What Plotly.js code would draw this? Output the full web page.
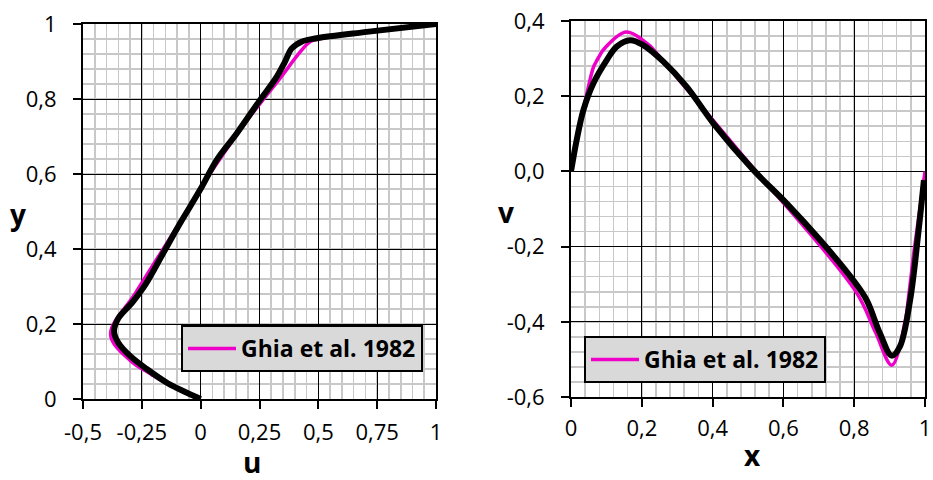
<!DOCTYPE html>
<html>
<head>
<meta charset="utf-8">
<script src="https://cdn.plot.ly/plotly-3.0.1.min.js"></script>
<style>html,body{margin:0;padding:0;background:#fff;}#chart{width:933px;height:480px;}</style>
</head>
<body>
<div id="chart"></div>
<script>
// Left panel: u along vertical centerline
const ghiaY = [0, 0.0547, 0.0625, 0.0703, 0.1016, 0.1719, 0.2813, 0.4531, 0.5, 0.6172, 0.7344, 0.8516, 0.9531, 0.9609, 0.9688, 0.9766, 1];
const ghiaU = [0, -0.18109, -0.20196, -0.22220, -0.29730, -0.38289, -0.27805, -0.10648, -0.06080, 0.05702, 0.18719, 0.33304, 0.46604, 0.51117, 0.57492, 0.65928, 1];
const simU = [0.0, -0.07, -0.14, -0.229, -0.30, -0.35, -0.368, -0.35, -0.29, -0.235, -0.16, -0.088, -0.003, 0.068, 0.153, 0.252, 0.323, 0.358, 0.387, 0.429, 0.493, 0.706, 1.0];
const simY = [0.0, 0.02, 0.042, 0.08, 0.115, 0.150, 0.18, 0.215, 0.258, 0.305, 0.388, 0.468, 0.557, 0.637, 0.708, 0.797, 0.859, 0.899, 0.935, 0.953, 0.962, 0.979, 1.0];

// Right panel: v along horizontal centerline
const ghiaX = [0, 0.0625, 0.0703, 0.0781, 0.0938, 0.1563, 0.2266, 0.2344, 0.5, 0.8047, 0.8594, 0.9063, 0.9453, 0.9531, 0.9609, 0.9688, 1];
const ghiaV = [0, 0.27485, 0.29012, 0.30353, 0.32627, 0.37095, 0.33075, 0.32235, 0.02526, -0.31966, -0.42665, -0.51550, -0.39188, -0.33714, -0.27669, -0.21388, 0];
const simX = [0, 0.016, 0.035, 0.063, 0.101, 0.129, 0.167, 0.204, 0.261, 0.327, 0.402, 0.515, 0.609, 0.703, 0.797, 0.835, 0.873, 0.906, 0.929, 0.958, 0.981, 0.997];
const simV = [0, 0.083, 0.163, 0.234, 0.296, 0.332, 0.349, 0.336, 0.292, 0.225, 0.128, 0.004, -0.085, -0.182, -0.289, -0.342, -0.431, -0.490, -0.466, -0.342, -0.165, -0.023];

// Tick labels
const uTickVals = [-0.5, -0.25, 0, 0.25, 0.5, 0.75, 1];
const uTickText = ['-0,5', '-0,25', '0', '0,25', '0,5', '0,75', '1'];
const yTickVals = [0, 0.2, 0.4, 0.6, 0.8, 1];
const yTickText = ['0', '0,2', '0,4', '0,6', '0,8', '1'];
const xTickVals = [0, 0.2, 0.4, 0.6, 0.8, 1];
const xTickText = ['0', '0,2', '0,4', '0,6', '0,8', '1'];
const vTickVals = [-0.6, -0.4, -0.2, 0, 0.2, 0.4];
const vTickText = ['-0,6', '-0,4', '-0,2', '0,0', '0,2', '0,4'];
const axisTitles = ['u', 'y', 'x', 'v'];

const legendName = 'Ghia et al. 1982';
const magenta = '#ee00c8';

const traces = [
  {x: ghiaU, y: ghiaY, xaxis: 'x', yaxis: 'y', mode: 'lines', name: legendName,
   line: {color: magenta, width: 3.5, shape: 'spline'}, legend: 'legend', showlegend: true},
  {x: simU, y: simY, xaxis: 'x', yaxis: 'y', mode: 'lines', name: 'sim u',
   line: {color: '#000', width: 6, shape: 'spline'}, showlegend: false},
  {x: ghiaX, y: ghiaV, xaxis: 'x2', yaxis: 'y2', mode: 'lines', name: legendName,
   line: {color: magenta, width: 3.5, shape: 'spline'}, legend: 'legend2', showlegend: true},
  {x: simX, y: simV, xaxis: 'x2', yaxis: 'y2', mode: 'lines', name: 'sim v',
   line: {color: '#000', width: 6, shape: 'spline'}, showlegend: false}
];

const tickFont = {family: 'Open Sans', size: 22, color: '#000'};
function axis(extra) {
  return Object.assign({
    showline: true, linecolor: '#000', linewidth: 2, mirror: true,
    ticks: 'outside', ticklen: 8, tickwidth: 2, tickcolor: '#000',
    showgrid: true, gridcolor: '#000', gridwidth: 1, zeroline: false,
    tickmode: 'array', ticklabelstandoff: 12,
    tickfont: tickFont, fixedrange: true
  }, extra);
}
function minor(t0, dt) {
  return {tickmode: 'linear', tick0: t0, dtick: dt, showgrid: true, gridcolor: '#c8c8c8', gridwidth: 1.6, ticks: ''};
}
const titleFont = {family: 'Open Sans', size: 28, color: '#000', weight: 'bold'};
const legFont = {family: 'Open Sans', size: 23, color: '#000', weight: 'bold'};

function titleAnn(text, px, py) {
  return {text: text, xref: 'paper', yref: 'paper', x: px / 933, y: 1 - py / 480,
    xanchor: 'center', yanchor: 'middle', showarrow: false, font: titleFont};
}

const layout = {
  width: 933, height: 480,
  margin: {l: 0, r: 0, t: 0, b: 0},
  paper_bgcolor: '#fff', plot_bgcolor: '#fff',
  font: {family: 'Open Sans', size: 22, color: '#000'},
  xaxis: axis({domain: [83/933, 436/933], range: [-0.5, 1], anchor: 'y',
    tickvals: uTickVals, ticktext: uTickText, minor: minor(-0.5, 0.05), ticklabelstandoff: 5}),
  yaxis: axis({domain: [81/480, 456/480], range: [0, 1], anchor: 'x',
    tickvals: yTickVals, ticktext: yTickText, minor: minor(0, 0.04)}),
  xaxis2: axis({domain: [571/933, 925/933], range: [0, 1], anchor: 'y2',
    tickvals: xTickVals, ticktext: xTickText, minor: minor(0, 0.04), ticklabelstandoff: 3}),
  yaxis2: axis({domain: [83/480, 459/480], range: [-0.6, 0.4], anchor: 'x2',
    tickvals: vTickVals, ticktext: vTickText, minor: minor(-0.6, 0.04)}),
  annotations: [
    titleAnn(axisTitles[0], 252, 462),
    titleAnn(axisTitles[1], 18, 214),
    titleAnn(axisTitles[2], 752, 455),
    titleAnn(axisTitles[3], 506, 212)
  ],
  legend: {x: 181/933, y: 1 - 325/480, xanchor: 'left', yanchor: 'top',
    bgcolor: '#d9d9d9', bordercolor: '#000', borderwidth: 2, font: legFont, itemwidth: 48},
  legend2: {x: 584/933, y: 1 - 336/480, xanchor: 'left', yanchor: 'top',
    bgcolor: '#d9d9d9', bordercolor: '#000', borderwidth: 2, font: legFont, itemwidth: 48},
  showlegend: true
};

Plotly.newPlot('chart', traces, layout, {displayModeBar: false, staticPlot: true});
</script>
</body>
</html>
